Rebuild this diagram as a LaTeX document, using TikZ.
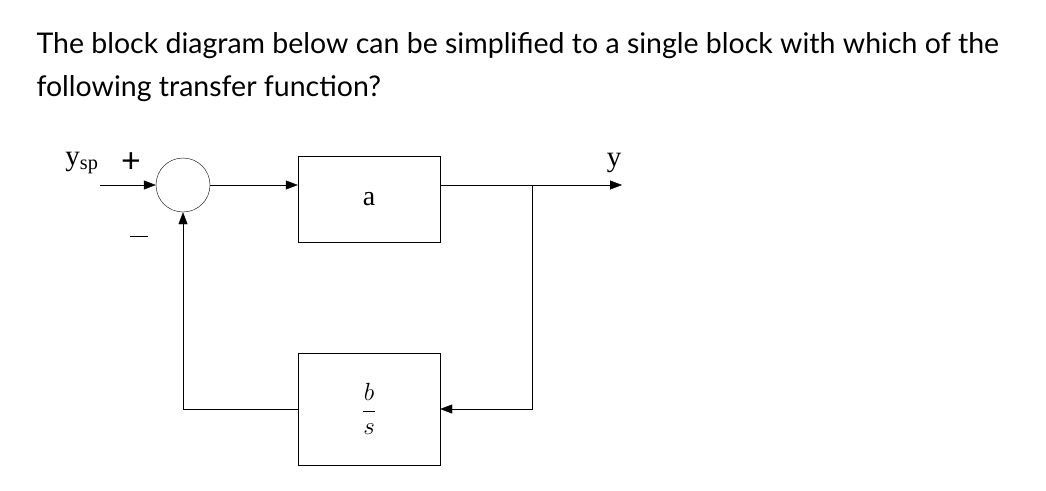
\documentclass[tikz,border=0pt]{standalone}
\usepackage{fontspec}
\setmainfont{Lato}
\newfontfamily\diagfont{Liberation Serif}
\usetikzlibrary{positioning,arrows.meta}
\tikzset{
	>={Triangle[length=12pt,width=9pt]}, % filled arrow heads
	block/.style={draw, minimum width=142pt, minimum height=86pt, font=\diagfont\fontsize{28}{30}\selectfont},
	sumpt/.style={draw, circle, minimum size=54pt},
	lbl/.style={font=\diagfont\fontsize{29}{30}\selectfont},
	line width=0.8pt,
}
\begin{document}
\begin{tikzpicture}[x=1pt,y=-1pt]
	\useasboundingbox (0,0) rectangle (1046,490);
	\node[anchor=west,font=\fontsize{28.5}{30}\selectfont] (q1) at (33,46) {The block diagram below can be simplified to a single block with which of the};
	\node[anchor=west,font=\fontsize{28.5}{30}\selectfont] (q2) at (33,89) {following transfer function?};
	
	\node[sumpt] (sum) at (183,185) {};
	\node[block] (a) at (369,199) {a};
	\node[block,minimum height=112pt] (fb) at (369,409) {$\displaystyle\frac{b}{s}$};
	\coordinate (in) at (100,185);
	\coordinate (out) at (622,185);
	\coordinate (br) at (532,185);
	
	\node[lbl] (ysp) at (82,163) {y\textsubscript{sp}};
	\node[font=\fontsize{34}{36}\selectfont] (plus) at (131,163) {+};
	\draw (130,236) -- (148,236);
	\node[lbl] (y) at (614,163) {y};
	
	\draw[->] (in) -- (sum.west);
	\draw[->] (sum.east) -- (sum.east -| a.west);
	\draw[->] (a.east |- out) -- (out);
	\draw[->] (br) |- (fb.east);
	\draw[->] (fb.west) -| (sum.south);
\end{tikzpicture}
\end{document}
